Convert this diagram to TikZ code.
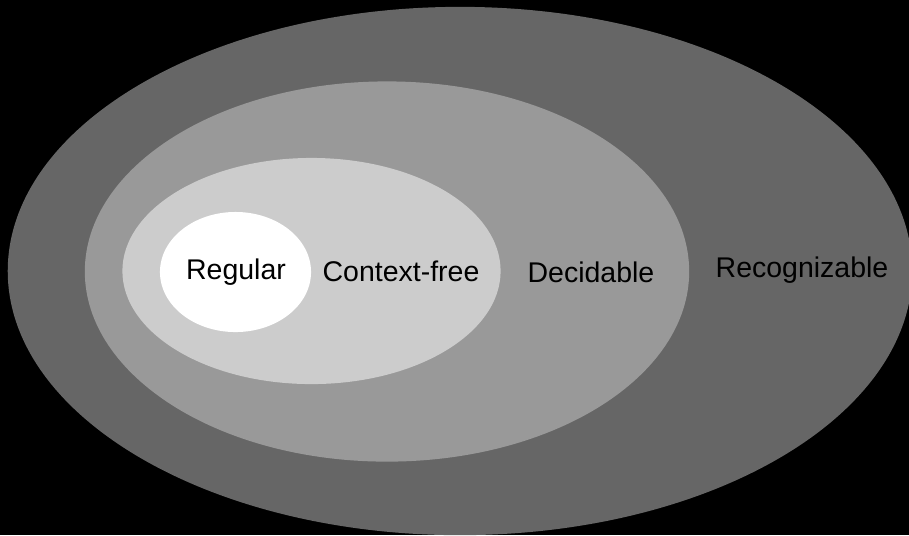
\documentclass[tikz,border=0pt]{standalone}
\usepackage{fontspec}
\setmainfont{Liberation Sans}
\usetikzlibrary{shapes.geometric}
\definecolor{recgray}{gray}{0.4}
\definecolor{decgray}{gray}{0.6}
\definecolor{cfgray}{gray}{0.8}

\begin{document}
\begin{tikzpicture}[x=0.01cm, y=-0.01cm,
    set/.style={ellipse, inner sep=0pt, draw=none},
    lab/.style={anchor=base, text=black, font=\fontsize{8.1}{10}\selectfont}]
    \useasboundingbox (0,0) rectangle (909,535);
    \fill[black] (0,0) rectangle (909,535);
    % nested classes
    \node [set, fill=recgray, minimum width=9.04cm, minimum height=5.28cm] (recog) at (460,271) {};
    \node [set, fill=decgray, minimum width=6.04cm, minimum height=3.80cm] (decid) at (387,271.5) {};
    \node [set, fill=cfgray, minimum width=3.78cm, minimum height=2.26cm] (cfree) at (311.5,271) {};
    \node [set, fill=white, minimum width=1.51cm, minimum height=1.20cm] (reg) at (235.5,272) {};
    % labels
    \node [lab] (regl) at (236,279) {Regular};
    \node [lab] (cfreel) at (401,281) {Context-free};
    \node [lab] (decidl) at (591,282) {Decidable};
    \node [lab] (recogl) at (802,277) {Recognizable};
\end{tikzpicture}
\end{document}
